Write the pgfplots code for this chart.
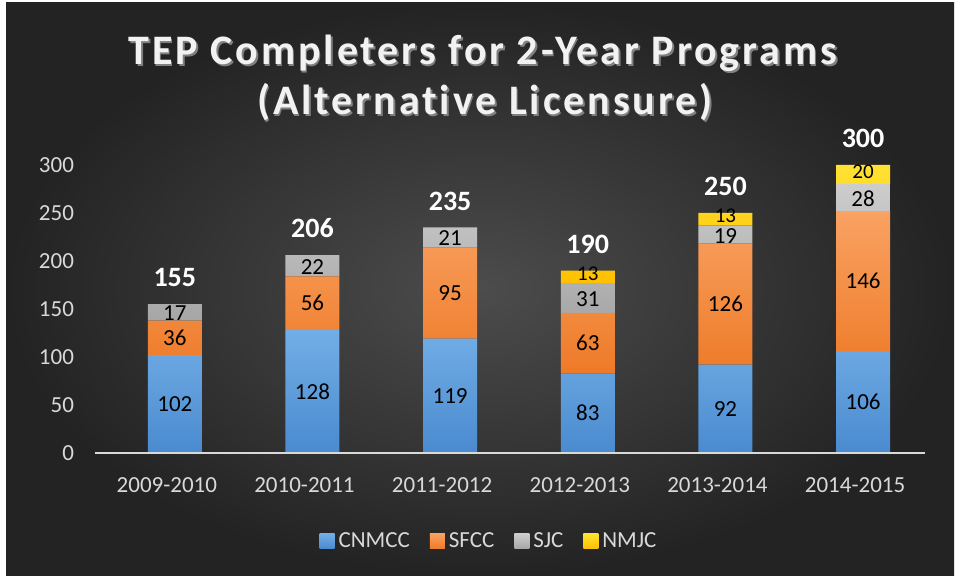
\documentclass[border=0pt]{standalone}
\usepackage{fontspec}
\setmainfont{Carlito}
\newfontfamily\titlefont[LetterSpace=7, Ligatures=NoCommon]{Carlito}
\usepackage{pgfplots}
\usepackage{pgfplotstable}
\pgfplotsset{compat=1.18}

\definecolor{bgin}{HTML}{4C4C4C}
\definecolor{bgout}{HTML}{232323}
\definecolor{ticktxt}{HTML}{D9D9D9}
\definecolor{titletxt}{HTML}{F2F2F2}
\definecolor{cnTop}{HTML}{72AEE6}
\definecolor{cnBot}{HTML}{4A8ACF}
\definecolor{sfTop}{HTML}{F9A262}
\definecolor{sfBot}{HTML}{EE7A28}
\definecolor{sjTop}{HTML}{CDCDCD}
\definecolor{sjBot}{HTML}{A6A6A6}
\definecolor{nmTop}{HTML}{FFE233}
\definecolor{nmBot}{HTML}{FFC000}

\pgfplotstableread{
x cn sf sj nm total
0 102 36 17 0 155
1 128 56 22 0 206
2 119 95 21 0 235
3 83 63 31 13 190
4 92 126 19 13 250
5 106 146 28 20 300
}\data

% stacked bar labels sit in the middle of their segment already
\pgfplotsset{
  seglbl/.style={
    visualization depends on={\thisrow{#1} \as \val},
    nodes near coords={\ifdim\val pt>0pt\pgfmathprintnumber{\val}\fi},
    every node near coord/.append style={anchor=center,
      text=black, font=\fontsize{11.5}{12}\selectfont, inner sep=0pt},
  },
}

\begin{document}
\begin{tikzpicture}
\useasboundingbox (0,0) rectangle (482pt,290.5pt);
\fill[white] (0,0) rectangle (482pt,290.5pt);
\shade[inner color=bgin, outer color=bgout] (3pt,2.5pt) rectangle (477pt,289pt);

% title with soft shadow
\foreach \dx/\dy/\col in {0.8pt/-0.8pt/black!50, 0pt/0pt/titletxt}{
  \node[text=\col, font=\titlefont\fontsize{21}{21}\selectfont\bfseries, anchor=base]
    at ([xshift=\dx, yshift=\dy]241.5pt,258pt) {TEP Completers for 2-Year Programs};
  \node[text=\col, font=\titlefont\fontsize{21}{21}\selectfont\bfseries, anchor=base]
    at ([xshift=\dx, yshift=\dy]242.5pt,233pt) {(Alternative Licensure)};
}

\begin{axis}[
  at={(47.5pt,64pt)}, anchor=south west,
  width=415pt, height=144pt, scale only axis,
  ybar stacked, bar width=27pt,
  xmin=-0.58, xmax=5.45, ymin=0, ymax=300,
  ytick={0,50,...,300},
  xtick={0,...,5},
  xticklabels={2009-2010,2010-2011,2011-2012,2012-2013,2013-2014,2014-2015},
  axis line style={draw=none},
  major tick length=0pt,
  /pgf/number format/assume math mode=true,
  tick label style={text=ticktxt, font=\fontsize{11.5}{12}\selectfont},
  yticklabel style={xshift=-7pt},
  xticklabel style={yshift=-9pt, xshift=-4pt},
  clip=false,
  legend columns=4,
  legend style={at={(0.5,-0.306)}, anchor=center, xshift=-10pt, draw=none, fill=none,
    text=ticktxt, font=\fontsize{11.5}{12}\selectfont,
    /tikz/every even column/.append style={column sep=8pt}},
  legend image code/.code={\fill[#1] (0pt,-3.75pt) rectangle (7.5pt,3.75pt);},
]
\draw[ticktxt, line width=1pt] (axis cs:-0.58,0) -- (axis cs:5.45,0);

\addplot[draw=none, top color=cnTop, bottom color=cnBot, seglbl=cn] table[x=x, y=cn] {\data};
\addplot[draw=none, top color=sfTop, bottom color=sfBot, seglbl=sf] table[x=x, y=sf] {\data};
\addplot[draw=none, top color=sjTop, bottom color=sjBot, seglbl=sj,
  every node near coord/.append style={yshift=-0.5pt}] table[x=x, y=sj] {\data};
\addplot[draw=none, top color=nmTop, bottom color=nmBot, seglbl=nm,
  every node near coord/.append style={yshift=1.5pt, font=\fontsize{10.5}{11}\selectfont}]
  table[x=x, y=nm] {\data};
% totals above each bar (node sits at bar middle, so lift by half the bar)
\addplot[stack plots=false, draw=none, fill=none, point meta=explicit,
  visualization depends on={\thisrow{total} \as \tot},
  nodes near coords,
  every node near coord/.append style={anchor=south, yshift=0.24*\tot+5, text=white,
    font=\fontsize{14}{14}\selectfont\bfseries}]
  table[x=x, y=total, meta=total] {\data};
\legend{CNMCC,SFCC,SJC,NMJC}
\end{axis}
\end{tikzpicture}
\end{document}
